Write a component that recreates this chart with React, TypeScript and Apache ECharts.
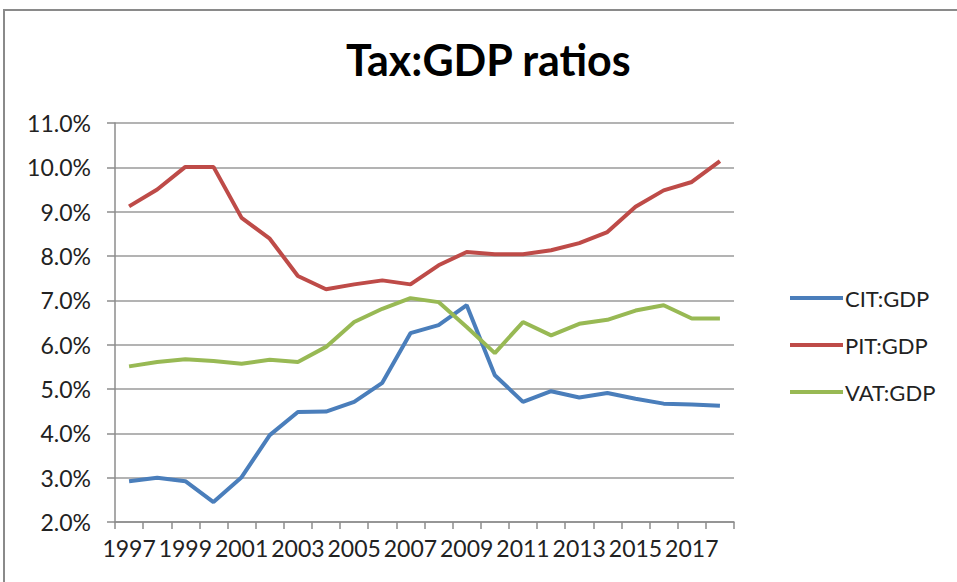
import React, { useEffect, useRef } from "react";
import * as echarts from "echarts";

const years = [
  "1997", "1998", "1999", "2000", "2001", "2002", "2003", "2004", "2005", "2006", "2007",
  "2008", "2009", "2010", "2011", "2012", "2013", "2014", "2015", "2016", "2017", "2018",
];
const citGdp = [2.92, 3.0, 2.92, 2.45, 3.01, 3.96, 4.48, 4.49, 4.71, 5.14, 6.26, 6.44, 6.89, 5.31, 4.71, 4.95, 4.81, 4.91, 4.78, 4.67, 4.65, 4.62];
const pitGdp = [9.12, 9.5, 10.01, 10.01, 8.86, 8.39, 7.55, 7.25, 7.36, 7.45, 7.36, 7.79, 8.09, 8.04, 8.04, 8.13, 8.29, 8.54, 9.11, 9.48, 9.67, 10.14];
const vatGdp = [5.51, 5.61, 5.67, 5.63, 5.57, 5.66, 5.61, 5.95, 6.51, 6.81, 7.05, 6.96, 6.4, 5.81, 6.51, 6.21, 6.47, 6.56, 6.77, 6.89, 6.59, 6.59];
const seriesNames = ["CIT:GDP", "PIT:GDP", "VAT:GDP"];
const seriesColors = ["#4a7ebb", "#be4b48", "#98b954"];

const FONT = "Lato, 'Liberation Sans', sans-serif";

export default function App() {
  const ref = useRef<HTMLDivElement>(null);
  useEffect(() => {
    if (!ref.current) return;
    const chart = echarts.init(ref.current, null, { renderer: "svg" });
    const data = [citGdp, pitGdp, vatGdp];
    chart.setOption({
      animation: false,
      backgroundColor: "#ffffff",
      textStyle: { fontFamily: FONT },
      title: {
        text: "Tax:GDP ratios",
        left: 341,
        top: 33,
        textStyle: { fontFamily: FONT, fontSize: 43, fontWeight: "bold", color: "#000000" },
      },
      graphic: [
        {
          type: "rect",
          shape: { x: 4, y: 10, width: 1000, height: 1000 },
          style: { fill: "none", stroke: "#8a8a8a", lineWidth: 2 },
          silent: true,
        },
      ],
      legend: {
        orient: "vertical",
        left: 785,
        top: 281,
        icon: "rect",
        itemWidth: 53,
        itemHeight: 4,
        itemGap: 23,
        textStyle: { fontFamily: FONT, fontSize: 22, color: "#222222", lineHeight: 24, padding: [0, 0, 0, -3] },
        data: seriesNames,
      },
      grid: { left: 115, right: 223, top: 123, bottom: 60, containLabel: false },
      xAxis: {
        type: "category",
        data: years,
        boundaryGap: true,
        axisLine: { show: true, lineStyle: { color: "#8c8c8c", width: 1.5 } },
        axisTick: { show: true, interval: 0, length: 7, lineStyle: { color: "#8c8c8c", width: 1.5 } },
        axisLabel: { interval: 1, margin: 14, fontFamily: FONT, fontSize: 23, color: "#222222" },
        splitLine: { show: false },
      },
      yAxis: {
        type: "value",
        min: 2,
        max: 11,
        interval: 1,
        axisLine: { show: true, lineStyle: { color: "#8c8c8c", width: 1.5 } },
        axisTick: { show: true, length: 8, lineStyle: { color: "#8c8c8c", width: 1.5 } },
        axisLabel: {
          margin: 24,
          fontFamily: FONT,
          fontSize: 23,
          color: "#222222",
          formatter: (v: number) => v.toFixed(1) + "%",
        },
        splitLine: { show: true, lineStyle: { color: "#9a9a9a", width: 1.5 } },
      },
      series: seriesNames.map((name, i) => ({
        name,
        type: "line",
        data: data[i],
        symbol: "none",
        showSymbol: false,
        lineStyle: { color: seriesColors[i], width: 4 },
        itemStyle: { color: seriesColors[i] },
      })),
    });
    return () => chart.dispose();
  }, []);
  return (
    <div
      ref={ref}
      style={{ position: "fixed", left: 0, top: 0, width: 957, height: 582 }}
    />
  );
}
